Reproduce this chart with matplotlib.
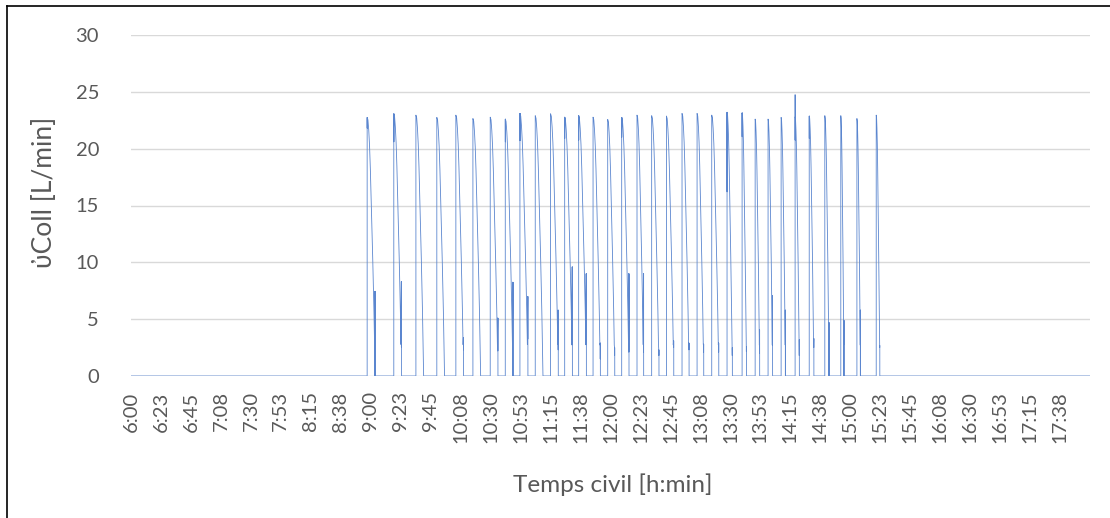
import matplotlib
matplotlib.use("Agg")
import matplotlib.pyplot as plt
from matplotlib.lines import Line2D

plt.rcParams['font.family'] = ['Lato', 'Noto Sans', 'DejaVu Sans']

# pulse start times (minutes after 6:00)
pulse_start = [177.3, 197.3, 213.9, 229.6, 243.9, 256.7, 269.7, 281.0, 292.0, 303.5,
               315.0, 325.6, 336.1, 346.9, 357.9, 368.4, 379.9, 390.9, 402.0, 413.7,
               425.0, 436.0, 447.5, 458.8, 468.6, 478.3, 488.1, 498.6, 509.2, 520.9,
               532.9, 545.0, 559.5]
# pulse length (minutes)
pulse_len = [6.0, 5.8, 5.8, 5.8, 5.8, 5.8, 5.8, 5.8, 6.0, 5.8,
             5.8, 5.8, 5.8, 5.5, 5.3, 5.5, 5.0, 5.5, 5.5, 5.3,
             5.0, 5.3, 4.0, 3.3, 3.4, 3.4, 3.3, 3.2, 3.5, 3.2,
             2.4, 2.7, 2.7]
# peak flow [L/min]
pulse_peak = [22.75, 23.07, 22.95, 22.75, 22.95, 22.65, 22.77, 22.6, 23.1, 22.9,
              23.07, 22.77, 22.9, 22.77, 22.57, 22.75, 22.95, 22.9, 22.87, 23.1,
              23.1, 22.95, 23.2, 23.15, 22.6, 22.6, 22.75, 22.8, 22.87, 22.9,
              22.9, 22.65, 22.95]
# short dips / spikes right after the rise
top_hi = [None] * 27 + [24.75] + [None] * 5
top_lo = [21.8, 20.6, None, None, None, None, None, 20.6, 20.7, None,
          None, 20.9, 20.75, None, None, 21.0, None, None, None, None,
          None, None, 16.2, 21.05, None, None, None, 20.75, 20.9, None,
          None, None, None]
# flicker at the end of each pulse (high, low)
glitch_hi = [7.45, 8.3, None, None, 3.4, None, 5.1, 8.25, 7.0, None,
             5.8, 9.6, 9.0, 2.9, 2.5, 9.0, 9.0, 2.3, 3.1, 2.9,
             2.8, 2.9, 2.5, 2.6, 4.05, 7.05, 5.8, 3.2, 3.3, 4.7,
             4.9, 5.8, 2.7]
glitch_lo = [0.0, 2.55, None, None, 2.3, None, 2.2, 0.0, 3.25, None,
             2.3, 2.9, 3.6, 1.5, 1.8, 2.1, 2.1, 1.8, 2.5, 2.3,
             2.1, 2.1, 1.8, 2.15, 2.0, 2.8, 0.0, 1.8, 2.5, 0.0,
             0.0, 0.0, 2.5]
# decay profile of one pulse (fraction of length, fraction of peak)
shape_frac = [0.1, 0.2, 0.3, 0.4, 0.55, 0.7, 0.85, 0.93]
shape_val = [0.99, 0.95, 0.89, 0.80, 0.63, 0.45, 0.25, 0.12]

tick_labels = ['6:00', '6:23', '6:45', '7:08', '7:30', '7:53', '8:15', '8:38',
               '9:00', '9:23', '9:45', '10:08', '10:30', '10:53', '11:15', '11:38',
               '12:00', '12:23', '12:45', '13:08', '13:30', '13:53', '14:15', '14:38',
               '15:00', '15:23', '15:45', '16:08', '16:30', '16:53', '17:15', '17:38']
t_end = 720

# build the series
t = [0.0]
v = [0.0]
for i in range(len(pulse_start)):
    t0 = pulse_start[i]
    d = pulse_len[i]
    pk = pulse_peak[i]
    t += [t0, t0]
    v += [0.0, top_hi[i] if top_hi[i] is not None else pk]
    if top_lo[i] is not None:
        t += [t0 + 0.05, t0 + 0.1]
        v += [top_lo[i], pk]
    for f, s in zip(shape_frac, shape_val):
        t.append(t0 + f * d)
        v.append(pk * s)
    te = t0 + d
    if glitch_hi[i] is not None:
        t += [te - 0.15, te - 0.1, te - 0.05, te - 0.02]
        v += [glitch_hi[i], glitch_lo[i], glitch_hi[i], glitch_lo[i]]
    t.append(te)
    v.append(0.0)
t.append(t_end)
v.append(0.0)

W, H = 1110, 518
fig = plt.figure(figsize=(W / 100, H / 100), dpi=100)
ax = fig.add_axes([131 / W, 1 - 376 / H, (1090 - 131) / W, (376 - 35) / H])

ax.plot(t, v, color='#5B86CF', lw=0.6, zorder=3)

ax.set_xlim(0, t_end)
ax.set_ylim(0, 30)
ax.set_yticks(range(0, 31, 5))
ax.set_xticks([i * 22.5 for i in range(len(tick_labels))])
ax.set_xticklabels(tick_labels, rotation=90, va='top')
ax.tick_params(axis='both', length=0, labelsize=14.5, labelcolor='#595959')
ax.tick_params(axis='y', pad=23)
ax.tick_params(axis='x', pad=11)
ax.grid(axis='y', color='#D9D9D9', lw=1.0)
ax.set_axisbelow(True)
for s in ax.spines.values():
    s.set_visible(False)

fig.text(613 / W, 1 - 492 / H, 'Temps civil [h:min]', ha='center', va='baseline',
         fontsize=17.5, color='#595959')
fig.text(45 / W, 1 - 192 / H, '\u1f50Coll [L/min]', ha='center', va='center',
         rotation=90, fontsize=19, color='#595959')

# chart border (cropped: only top and left visible)
fig.add_artist(Line2D([7 / W, 1], [1 - 6 / H, 1 - 6 / H], color='black', lw=1.2,
                      transform=fig.transFigure))
fig.add_artist(Line2D([7 / W, 7 / W], [0, 1 - 6 / H], color='black', lw=1.2,
                      transform=fig.transFigure))

fig.savefig('out.png', dpi=100)
